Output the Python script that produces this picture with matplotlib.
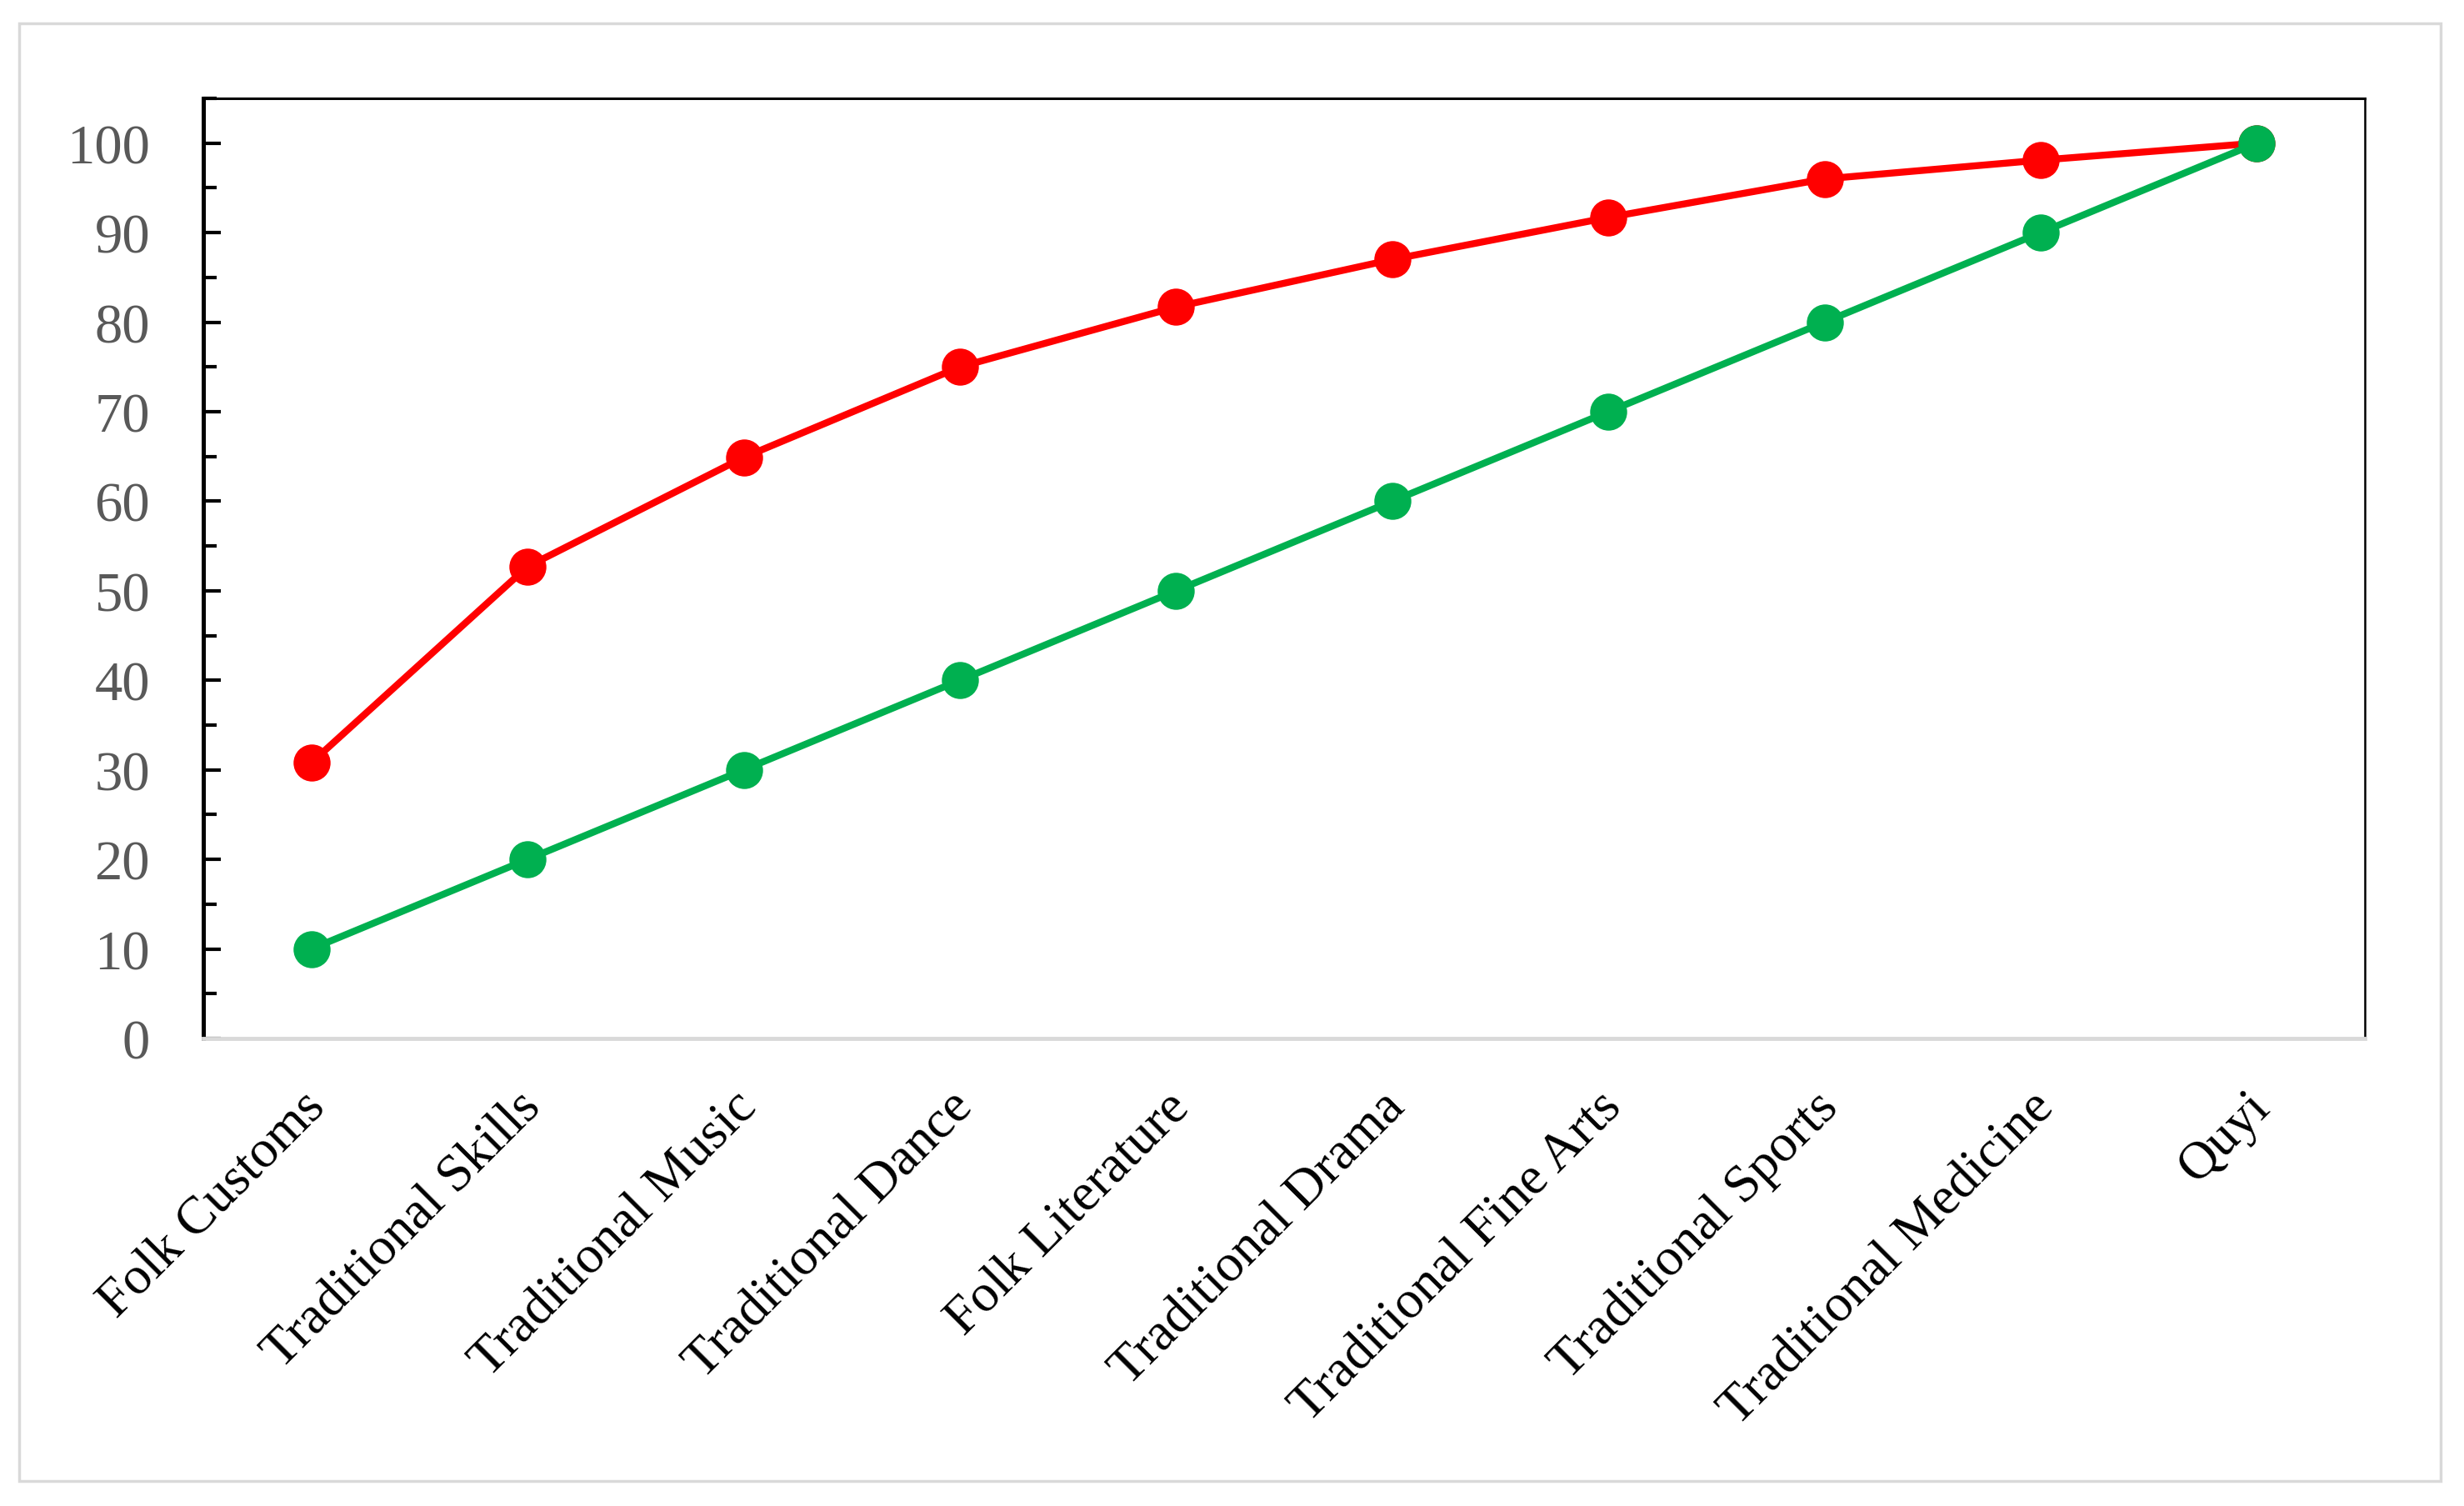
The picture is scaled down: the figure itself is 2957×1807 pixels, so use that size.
import matplotlib
matplotlib.use("Agg")
import matplotlib.pyplot as plt
from matplotlib.patches import Rectangle

categories = ["Folk Customs", "Traditional Skills", "Traditional Music", "Traditional Dance",
              "Folk Literature", "Traditional Drama", "Traditional Fine Arts",
              "Traditional Sports", "Traditional Medicine", "Quyi"]
red_values = [30.8, 52.7, 64.9, 75.0, 81.7, 87.0, 91.7, 96.0, 98.1, 100.0]
green_values = [10, 20, 30, 40, 50, 60, 70, 80, 90, 100]

W, H = 2957, 1808
fig = plt.figure(figsize=(W / 100, H / 100), dpi=100)
plt.rcParams['font.family'] = ['Liberation Serif', 'DejaVu Serif']

# outer light-grey frame
fig.patches.append(Rectangle((23 / W, 1 - 1778 / H), (2929 - 23) / W, (1778 - 29) / H,
                             transform=fig.transFigure, fill=False,
                             edgecolor='#d9d9d9', linewidth=2.5))

L, R, T, B = 244, 2838, 119, 1247
ax = fig.add_axes([L / W, 1 - B / H, (R - L) / W, (B - T) / H])

x = list(range(len(categories)))
ax.plot(x, red_values, color='#ff0000', linewidth=6, marker='o', markersize=32,
        markeredgewidth=0, zorder=3)
ax.plot(x, green_values, color='#00b050', linewidth=6, marker='o', markersize=32,
        markeredgewidth=0, zorder=4)

ax.set_xlim(-0.5, len(categories) - 0.5)
ax.set_ylim(0, 104.6)
ax.set_yticks(range(0, 101, 10))
ax.set_yticks([v + 5 for v in range(0, 101, 10)], minor=True)
ax.set_yticklabels([str(v) for v in range(0, 101, 10)], fontsize=48, color='#595959')

ax.set_xticks(x)
ax.set_xticklabels([''] * len(categories))
for xi, cat in zip(x, categories):
    ax.annotate(cat, xy=(xi, 0), xycoords=ax.get_xaxis_transform(),
                xytext=(-9.5, -38), textcoords='offset points',
                rotation=45, ha='right', va='top', rotation_mode='anchor',
                fontsize=46, color='black', annotation_clip=False)

ax.tick_params(axis='y', which='major', direction='in', length=15, width=3.0, pad=46,
               color='black')
ax.tick_params(axis='y', which='minor', direction='in', length=11.5, width=3.0,
               color='black')
ax.tick_params(axis='x', which='both', length=0)

ax.spines['left'].set_linewidth(3.6)
ax.spines['left'].set_color('black')
ax.spines['top'].set_linewidth(2.2)
ax.spines['top'].set_color('black')
ax.spines['right'].set_linewidth(1.8)
ax.spines['right'].set_color('black')
ax.spines['bottom'].set_linewidth(3.5)
ax.spines['bottom'].set_color('#d9d9d9')
ax.set_facecolor('white')

fig.savefig('out.png', dpi=100, facecolor='white')
